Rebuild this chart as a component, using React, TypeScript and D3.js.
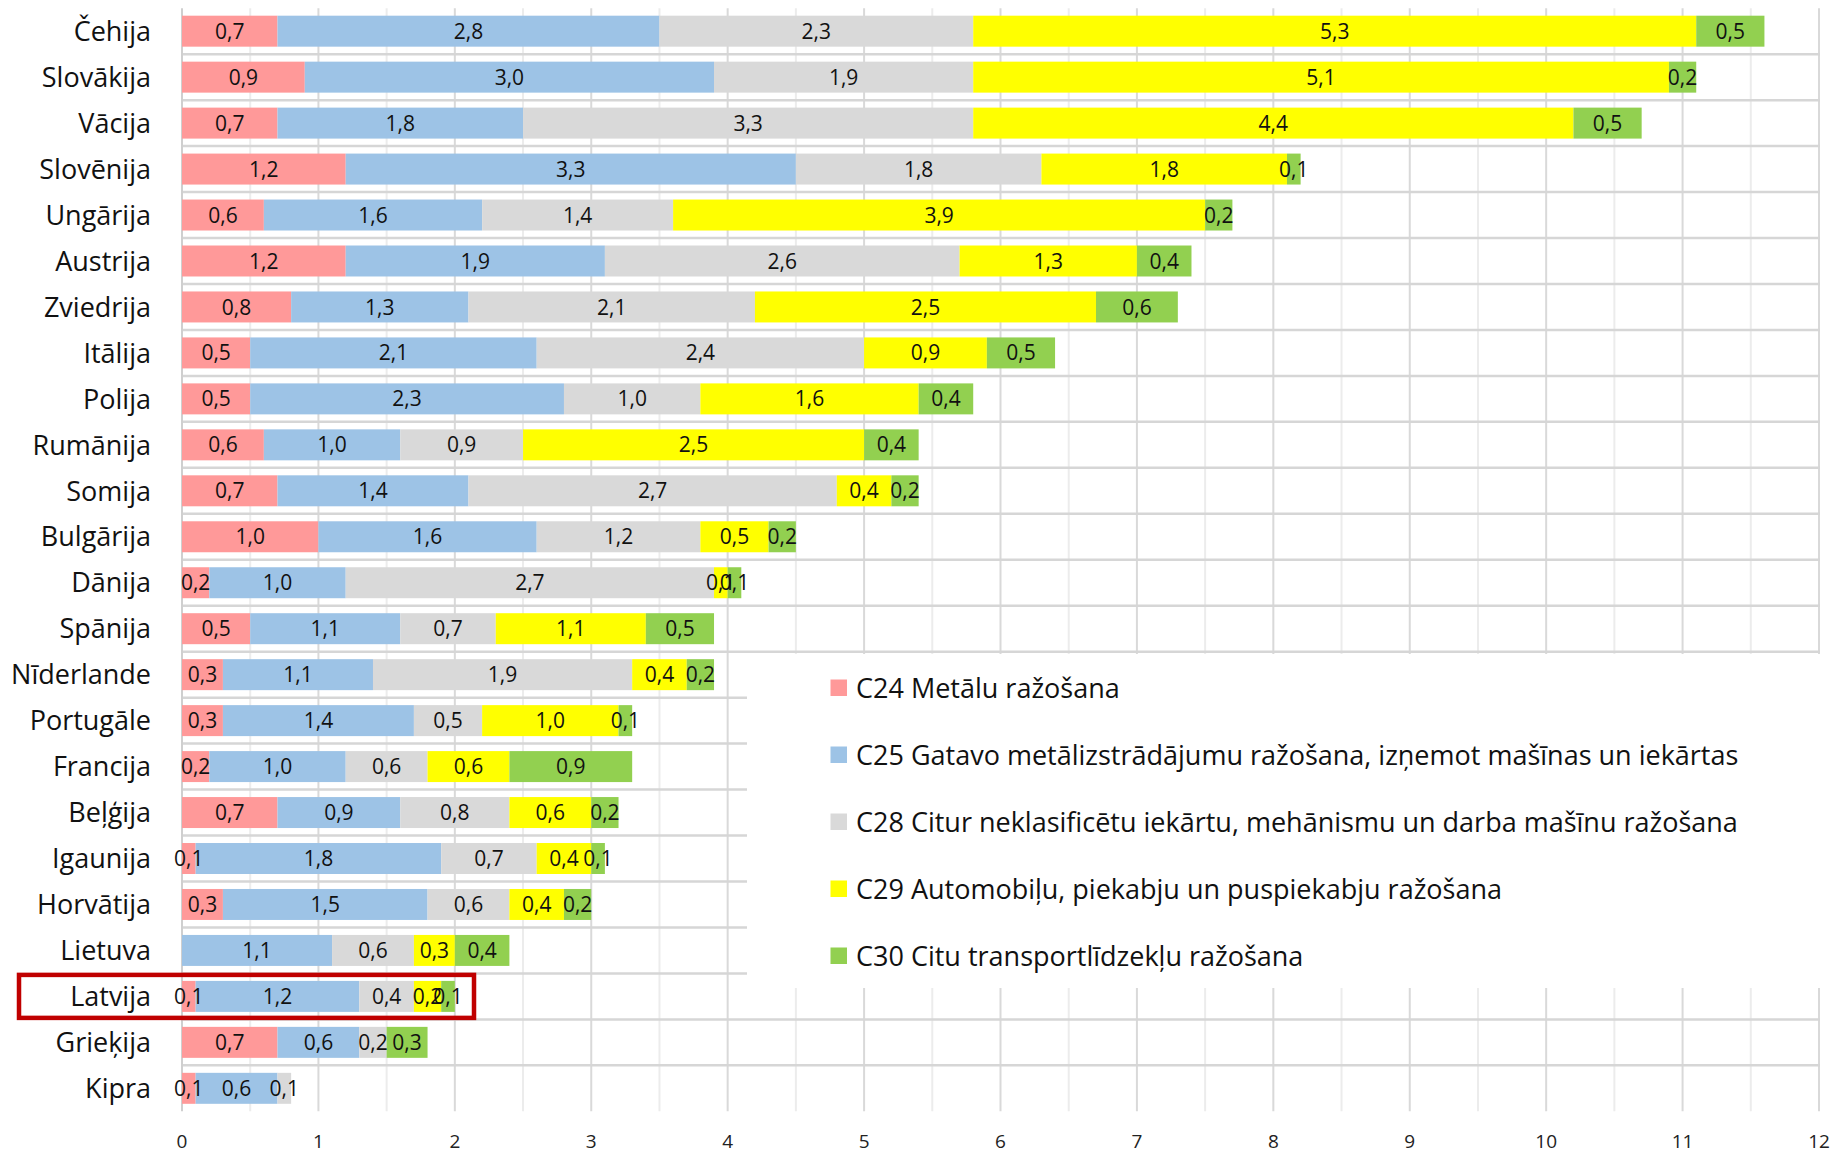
import React from 'react';
import * as d3 from 'd3';

const categories = ['Čehija','Slovākija','Vācija','Slovēnija','Ungārija','Austrija','Zviedrija','Itālija','Polija','Rumānija','Somija','Bulgārija','Dānija','Spānija','Nīderlande','Portugāle','Francija','Beļģija','Igaunija','Horvātija','Lietuva','Latvija','Grieķija','Kipra'];
const c24 = [0.7,0.9,0.7,1.2,0.6,1.2,0.8,0.5,0.5,0.6,0.7,1.0,0.2,0.5,0.3,0.3,0.2,0.7,0.1,0.3,0,0.1,0.7,0.1];
const c25 = [2.8,3.0,1.8,3.3,1.6,1.9,1.3,2.1,2.3,1.0,1.4,1.6,1.0,1.1,1.1,1.4,1.0,0.9,1.8,1.5,1.1,1.2,0.6,0.6];
const c28 = [2.3,1.9,3.3,1.8,1.4,2.6,2.1,2.4,1.0,0.9,2.7,1.2,2.7,0.7,1.9,0.5,0.6,0.8,0.7,0.6,0.6,0.4,0.2,0.1];
const c29 = [5.3,5.1,4.4,1.8,3.9,1.3,2.5,0.9,1.6,2.5,0.4,0.5,0.1,1.1,0.4,1.0,0.6,0.6,0.4,0.4,0.3,0.2,0,0];
const c30 = [0.5,0.2,0.5,0.1,0.2,0.4,0.6,0.5,0.4,0.4,0.2,0.2,0.1,0.5,0.2,0.1,0.9,0.2,0.1,0.2,0.4,0.1,0.3,0];
const seriesKeys = ['c24','c25','c28','c29','c30'];
const seriesNames = [
  'C24 Metālu ražošana',
  'C25 Gatavo metālizstrādājumu ražošana, izņemot mašīnas un iekārtas',
  'C28 Citur neklasificētu iekārtu, mehānismu un darba mašīnu ražošana',
  'C29 Automobiļu, piekabju un puspiekabju ražošana',
  'C30 Citu transportlīdzekļu ražošana',
];
const seriesColors = ['#FF9999','#9DC3E6','#D9D9D9','#FFFF00','#92D050'];
const xTicks = [0,1,2,3,4,5,6,7,8,9,10,11,12];
const highlighted = 'Latvija';

const W = 1833, H = 1153;
const FONT = '"Open Sans", "Noto Sans", sans-serif';

export default function App() {
  const table = categories.map((c, i) => ({ cat: c, c24: c24[i], c25: c25[i], c28: c28[i], c29: c29[i], c30: c30[i] }));
  const stack = d3.stack<any>().keys(seriesKeys)(table);

  const x = d3.scaleLinear().domain([0, 12]).range([182, 1819]);
  const y = d3.scaleBand<string>().domain(categories).range([8.2, 1111.3]).paddingInner(0.326).paddingOuter(0.163);
  const bw = y.bandwidth();
  const step = y.step();
  const gap = step - bw;
  const top = 8.2, bottom = 1111.3;

  const fmt = (v: number) => d3.format('.1f')(v).replace('.', ',');
  const minorTicks = d3.range(0.5, 12, 1);

  const lb = { x: 747, y: 654, w: W - 747, h: 988 - 654 };
  const legendY = [688, 755, 822, 889, 956];

  const hl = y(highlighted)!;

  return (
    <div style={{ width: W, height: H, overflow: 'hidden' }}>
      <style>{`html,body{margin:0;padding:0;background:#fff;}`}</style>
      <svg width={W} height={H} style={{ display: 'block', background: '#fff' }} fontFamily={FONT}>
        <rect x={0} y={0} width={W} height={H} fill="#fff" />
        {minorTicks.map(t => (
          <line key={'mn' + t} x1={x(t)} x2={x(t)} y1={top} y2={bottom} stroke="#ececec" strokeWidth={2} />
        ))}
        {xTicks.slice(1).map(t => (
          <line key={'mj' + t} x1={x(t)} x2={x(t)} y1={top} y2={bottom} stroke="#d9d9d9" strokeWidth={2} />
        ))}
        {categories.slice(1).map(c => {
          const yy = y(c)! - gap / 2;
          return <line key={'h' + c} x1={x(0)} x2={1820} y1={yy} y2={yy} stroke="#d6d6d6" strokeWidth={2.5} />;
        })}
        <rect x={lb.x} y={lb.y} width={lb.w} height={lb.h} fill="#fff" />
        <line x1={x(0)} x2={x(0)} y1={top} y2={bottom} stroke="#cfcfcf" strokeWidth={2} />
        {stack.map((s, si) => (
          <g key={s.key}>
            {s.map((d, i) => {
              const v = d[1] - d[0];
              if (v <= 0) return null;
              return (
                <rect key={i} x={x(d[0])} y={y(categories[i])!} width={x(d[1]) - x(d[0])} height={bw} fill={seriesColors[si]} />
              );
            })}
          </g>
        ))}
        {stack.map((s, si) => (
          <g key={'l' + s.key}>
            {s.map((d, i) => {
              const v = d[1] - d[0];
              if (v <= 0.0001) return null;
              return (
                <text key={i} x={x((d[0] + d[1]) / 2)} y={y(categories[i])! + bw / 2} dy="0.36em" textAnchor="middle" fontSize={21} fill="#111">
                  {fmt(v)}
                </text>
              );
            })}
          </g>
        ))}
        {categories.map(c => (
          <text key={'c' + c} x={151} y={y(c)! + bw / 2} dy="0.36em" textAnchor="end" fontSize={27} fill="#111">{c}</text>
        ))}
        {xTicks.map(t => (
          <text key={'t' + t} x={x(t)} y={1141} dy="0.36em" textAnchor="middle" fontSize={19} fill="#222">{t}</text>
        ))}
        {seriesNames.map((n, i) => (
          <g key={'lg' + i}>
            <rect x={830.5} y={legendY[i] - 8.5} width={16.5} height={16.5} fill={seriesColors[i]} />
            <text x={856} y={legendY[i]} dy="0.36em" fontSize={27} fill="#111">{n}</text>
          </g>
        ))}
        <rect x={19} y={hl + bw / 2 - 21.5} width={455} height={43} fill="none" stroke="#C00000" strokeWidth={4.5} />
      </svg>
    </div>
  );
}
